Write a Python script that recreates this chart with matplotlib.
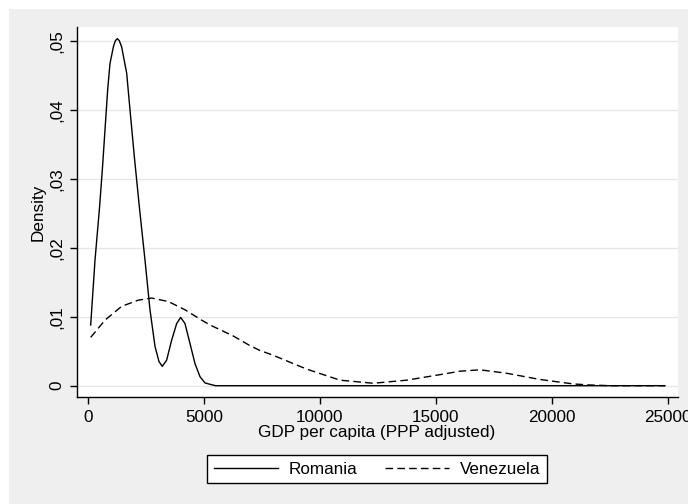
import matplotlib
matplotlib.use("Agg")
import matplotlib.pyplot as plt
from matplotlib.patches import Rectangle
from matplotlib.ticker import FuncFormatter

plt.rcParams['font.family'] = ['Liberation Sans', 'DejaVu Sans']

# kernel density values
romania_x = [116, 302, 489, 618, 733, 848, 948, 1100, 1180, 1264, 1350, 1451, 1667,
             1810, 1997, 2220, 2457, 2672, 2888, 3060, 3203, 3390, 3606, 3822, 3994,
             4181, 4397, 4612, 4828, 5043, 5259, 5500, 24870]
romania_y = [.0088, .0182, .0255, .0313, .0371, .0429, .0467, .0492, .0500, .0503,
             .0500, .0491, .0453, .0400, .0332, .0257, .0182, .0110, .0057, .0035,
             .0028, .0037, .0066, .0090, .0099, .0090, .0061, .0032, .0013, .0004,
             .0002, 0, 0]

venezuela_x = [116, 733, 1451, 2169, 2745, 3462, 4181, 4900, 5259, 6264, 6983, 7414,
               7989, 9427, 10862, 12300, 13737, 15172, 16034, 16897, 18047, 19483,
               20920, 21640, 22500, 24870]
venezuela_y = [.0070, .0095, .0115, .0124, .0127, .0122, .0110, .0095, .0088, .0072,
               .0058, .0051, .0044, .0024, .0008, .00035, .0008, .0016, .0021, .0023,
               .0018, .0009, .00025, .0001, 0, 0]

xticks = [0, 5000, 10000, 15000, 20000, 25000]
yticks = [0, .01, .02, .03, .04, .05]

W, H = 688, 504
FS = 12.3
fig = plt.figure(figsize=(W / 100, H / 100), dpi=100)
fig.patch.set_facecolor('white')
fig.patches.append(Rectangle((9 / W, 0), 1, 1 - 9 / H, transform=fig.transFigure,
                             facecolor='#efefef', edgecolor='none', zorder=-10))

ax = fig.add_axes([77 / W, 1 - 397 / H, (678 - 77) / W, (397 - 27) / H])
ax.set_facecolor('white')

ax.plot(romania_x, romania_y, color='black', lw=1.0, label='Romania')
ax.plot(venezuela_x, venezuela_y, color='black', lw=1.0, linestyle=(0, (5.5, 3)),
        label='Venezuela')

ax.set_xlim(-474, 25431)
ax.set_ylim(-0.00164, 0.05199)
ax.set_xticks(xticks)
ax.set_yticks(yticks)
ax.yaxis.set_major_formatter(FuncFormatter(
    lambda v, p: '0' if v == 0 else f'{v:.2f}'.lstrip('0').replace('.', ',')))
ax.grid(axis='y', color='#e6e6e6', lw=1.0)
ax.set_axisbelow(True)

for s in ['top', 'right']:
    ax.spines[s].set_visible(False)
for s in ['left', 'bottom']:
    ax.spines[s].set_color('black')
    ax.spines[s].set_linewidth(1.0)

ax.tick_params(axis='both', direction='out', length=5, width=1, color='black',
               labelsize=FS, pad=4)
for lab in ax.get_yticklabels():
    lab.set_rotation(90)
    lab.set_va('center')

fig.text(38 / W, 1 - 212 / H, 'Density', rotation=90, ha='center', va='center',
         fontsize=FS)
fig.text(377 / W, 1 - 433 / H, 'GDP per capita (PPP adjusted)', ha='center',
         va='center', fontsize=FS)

leg = fig.legend(loc='center', bbox_to_anchor=(377 / W, 1 - 469 / H), ncol=2,
                 fontsize=FS, handlelength=3.75, handletextpad=0.65,
                 columnspacing=1.6, frameon=True, fancybox=False, borderpad=0.4)
leg.get_frame().set_edgecolor('black')
leg.get_frame().set_linewidth(1.0)
leg.get_frame().set_facecolor('white')
leg.get_frame().set_alpha(1)

fig.savefig('out.png', dpi=100)
